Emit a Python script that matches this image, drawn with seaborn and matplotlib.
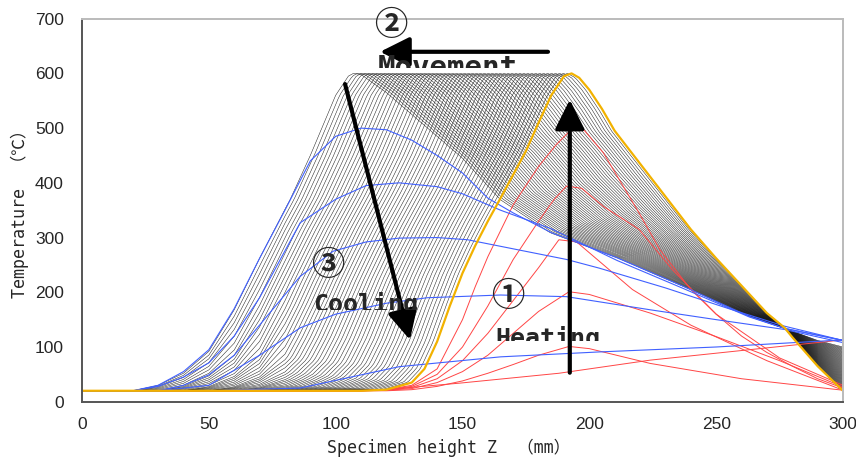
import numpy as np
import pandas as pd
import matplotlib
matplotlib.use("Agg")
import matplotlib.pyplot as plt
import seaborn as sns
from matplotlib.transforms import Bbox, TransformedBbox

# ---------------------------------------------------------------------------
# Temperature profiles along the specimen (z in mm, T in degC)
# ---------------------------------------------------------------------------
# end of heating: hot zone at z = 193 mm reaches 600 degC
orange_z = [0, 110, 120, 130, 135, 140, 145, 150, 155, 160, 165, 170, 175, 180,
            185, 190, 193, 196, 200, 205, 210, 215, 220, 230, 240, 250, 260,
            270, 277, 280, 290, 300]
orange_t = [20, 20, 22, 35, 60, 110, 175, 235, 285, 330, 372, 415, 458, 510,
            560, 595, 600, 592, 570, 535, 495, 465, 435, 375, 315, 262, 212,
            162, 135, 118, 65, 20]

# end of movement: hot zone arrived at z = 107 mm
final_move_z = [0, 20, 30, 40, 50, 60, 70, 75, 82, 90, 100, 105, 107, 110,
                120, 130, 140, 150, 165, 184.5, 211, 237, 263, 277, 290, 300]
final_move_t = [20, 20, 30, 52, 92, 168, 262, 309, 369, 450, 560, 595, 600, 598,
                565, 525, 485, 445, 369, 309, 263, 211, 156, 134, 112, 100]

# hot-zone travel during movement (constant speed)
zone_start, zone_end, zone_steps = 193, 107, 56
# all profiles of the movement stage cross here
cross_z = 277

# heating stage profiles
heat1_z = [0, 100, 117, 149, 188, 224, 263, 300]
heat1_t = [20, 20, 21, 34, 52, 76, 95, 113]
heat2_z = [0, 110, 120, 130, 140, 150, 160, 170, 180, 192, 200, 224, 260, 300]
heat2_t = [20, 20, 20, 22, 28, 38, 52, 68, 85, 101, 97, 70, 42, 21]
heat3_z = [0, 110, 120, 130, 140, 150, 160, 170, 180, 192, 200, 224, 250, 275, 300]
heat3_t = [20, 20, 21, 24, 35, 55, 85, 125, 165, 201, 196, 162, 119, 75, 27]
heat4_z = [0, 110, 120, 130, 140, 150, 160, 170, 180, 188, 195, 217, 240, 270, 300]
heat4_t = [20, 20, 21, 26, 42, 75, 125, 185, 245, 296, 292, 205, 140, 75, 21]
heat5_z = [0, 110, 120, 130, 140, 150, 160, 170, 180, 186, 191, 197, 205.5, 219.6,
           232.8, 250, 275, 300]
heat5_t = [20, 20, 22, 28, 50, 100, 175, 260, 330, 369, 394, 390, 357, 315,
           241, 160, 80, 30]
heat6_z = [0, 110, 120, 130, 140, 150, 155, 160, 170, 180, 187, 193, 198, 205.5,
           219.6, 227.8, 240, 250, 260, 270, 280, 290, 300]
heat6_t = [20, 20, 22, 30, 60, 150, 210, 265, 360, 430, 470, 498, 496, 455,
           345, 278, 205, 160, 120, 90, 65, 42, 25]

# cooling stage profiles
cool1_z = [0, 20, 30, 40, 50, 60, 70, 80, 90, 100, 110, 120, 130, 140, 150, 160,
           170, 185, 211, 237, 263, 277, 300]
cool1_t = [20, 20, 30, 55, 95, 170, 262, 350, 440, 485, 500, 497, 478, 450, 418,
           372, 345, 309, 263, 211, 156, 134, 112]
cool2_z = [0, 20, 30, 40, 50, 60, 70, 86, 100, 112, 125, 140, 150, 165, 185, 211,
           237, 263, 277, 300]
cool2_t = [20, 20, 28, 45, 71, 120, 190, 327, 370, 395, 400, 393, 380, 350, 316,
           258, 207, 155, 134, 112]
cool3_z = [0, 30, 40, 50, 60, 70, 86, 99, 112, 125, 140, 152, 165, 191, 204, 230,
           255, 277, 300]
cool3_t = [20, 20, 30, 49, 85, 140, 229, 275, 292, 299, 300, 296, 284, 260, 244,
           208, 170, 138, 112]
cool4_z = [0, 30, 50, 70, 86, 100, 120, 136, 165, 191, 224, 250, 277, 300]
cool4_t = [20, 20, 30, 85, 135, 160, 180, 190, 195, 192, 168, 150, 132, 108]
cool5_z = [0, 50, 86, 125, 165, 204, 250, 300]
cool5_t = [20, 20, 25, 64, 82, 91, 100, 113]

x_ticks = [0, 50, 100, 150, 200, 250, 300]
y_ticks = [0, 100, 200, 300, 400, 500, 600, 700]

# ---------------------------------------------------------------------------
# Movement stage: the profile is carried from 193 mm to 107 mm
# ---------------------------------------------------------------------------
nodes = np.concatenate([np.arange(0, 80, 10.0), np.arange(80, 300.5, 1.0)])


def at(z, pz, pt):
    return np.interp(z, pz, pt, left=pt[0], right=pt[-1])


rows = []
for k, zp in enumerate(np.linspace(zone_start, zone_end, zone_steps)):
    w = (zone_start - zp) / (zone_start - zone_end)
    # rising side, ahead of the hot zone
    zl = nodes[nodes < zp]
    d = zp - zl
    tl = (1 - w) * at(zone_start - d, orange_z, orange_t) + \
        w * at(zone_end - d, final_move_z, final_move_t)
    # falling side, stretched between the hot zone and the crossing point
    zr = nodes[(nodes > zp) & (nodes <= cross_z)]
    u0 = cross_z - (cross_z - zr) * (cross_z - zone_start) / (cross_z - zp)
    u1 = cross_z - (cross_z - zr) * (cross_z - zone_end) / (cross_z - zp)
    tr = (1 - w) * at(u0, orange_z, orange_t) + w * at(u1, final_move_z, final_move_t)
    # beyond the crossing point
    ze = nodes[nodes > cross_z]
    te = (1 - w) * at(ze, orange_z, orange_t) + w * at(ze, final_move_z, final_move_t)
    zz = np.concatenate([zl, [zp], zr, ze])
    tt = np.concatenate([tl, [600.0], tr, te])
    rows.append(pd.DataFrame({"z": zz, "T": tt, "curve": f"m{k:02d}"}))
move_df = pd.concat(rows, ignore_index=True)


def frame(pairs, tag):
    return pd.concat([pd.DataFrame({"z": z, "T": t, "curve": f"{tag}{i}"})
                      for i, (z, t) in enumerate(pairs)], ignore_index=True)


heat_df = frame([(heat1_z, heat1_t), (heat2_z, heat2_t), (heat3_z, heat3_t),
                 (heat4_z, heat4_t), (heat5_z, heat5_t), (heat6_z, heat6_t)], "h")
cool_df = frame([(cool1_z, cool1_t), (cool2_z, cool2_t), (cool3_z, cool3_t),
                 (cool4_z, cool4_t), (cool5_z, cool5_t)], "c")
orange_df = pd.DataFrame({"z": orange_z, "T": orange_t, "curve": "o"})

# ---------------------------------------------------------------------------
sns.set_theme(style="white")
plt.rcParams["font.family"] = ["Liberation Sans", "Noto Sans CJK JP"]

fig = plt.figure(figsize=(8.56, 4.59), dpi=100)
ax = fig.add_axes([0.0958, 0.1248, 0.889, 0.8345])

common = dict(x="z", y="T", units="curve", estimator=None, sort=False,
              legend=False, ax=ax)
sns.lineplot(data=move_df, color="#1a1a1a", lw=0.35, **common)
sns.lineplot(data=heat_df, color="#FF4545", lw=0.7, **common)
sns.lineplot(data=cool_df, color="#4060FF", lw=0.8, **common)
sns.lineplot(data=orange_df, color="#F2B200", lw=1.6, **common)

ax.set_xlim(0, 300)
ax.set_ylim(0, 700)
ax.set_xticks(x_ticks)
ax.set_yticks(y_ticks)
ax.tick_params(direction="in", length=5, width=1.2, color="#555555",
               labelsize=12.5)
ax.tick_params(axis="y", pad=13)
ax.tick_params(axis="x", pad=11)
for side in ("left", "bottom"):
    ax.spines[side].set_color("#555555")
    ax.spines[side].set_linewidth(1.4)
for side in ("top", "right"):
    ax.spines[side].set_color("#BBBBBB")
    ax.spines[side].set_linewidth(1.4)

lab_font = ["DejaVu Sans Mono", "Noto Sans CJK JP"]
ax.set_xlabel("Specimen height Z  （mm）", family=lab_font, fontsize=12)
ax.xaxis.set_label_coords(0.482, -0.097)
ax.set_ylabel("Temperature　（℃）", family=lab_font, fontsize=12, labelpad=4)

# stage arrows
arrow = dict(arrowstyle="-|>,head_length=1.0,head_width=0.5", lw=3,
             color="black", mutation_scale=18, shrinkA=0, shrinkB=0)
ax.annotate("", xy=(192.3, 552), xytext=(192.3, 53), arrowprops=arrow)
ax.annotate("", xy=(117.5, 639.5), xytext=(183.7, 639.5), arrowprops=arrow)
ax.annotate("", xy=(129.3, 113), xytext=(103.7, 580.5), arrowprops=arrow)

circ_font = ["Noto Sans CJK JP"]
for label, cx, cy in [("②", 121.8, 688), ("③", 97.0, 249), ("①", 167.9, 192)]:
    ax.text(cx, cy, label, family=circ_font, fontsize=24, fontweight="bold",
            ha="center", va="center")

word_font = ["DejaVu Sans Mono"]
labels = [("Movement", 116.7, 595, 21, 610.6),
          ("Cooling", 91.0, 164, 18, 168.0),
          ("Heating", 162.8, 101, 18, 111.0)]
for word, x0, base, size, cut in labels:
    t = ax.text(x0, base, word, family=word_font, fontweight="bold",
                fontsize=size, ha="left", va="baseline")
    box = TransformedBbox(Bbox.from_extents(x0 - 5, cut, x0 + 80, 700),
                          ax.transData)
    t.set_clip_box(box)
    t.set_clip_on(True)

fig.savefig("out.png", dpi=100)
